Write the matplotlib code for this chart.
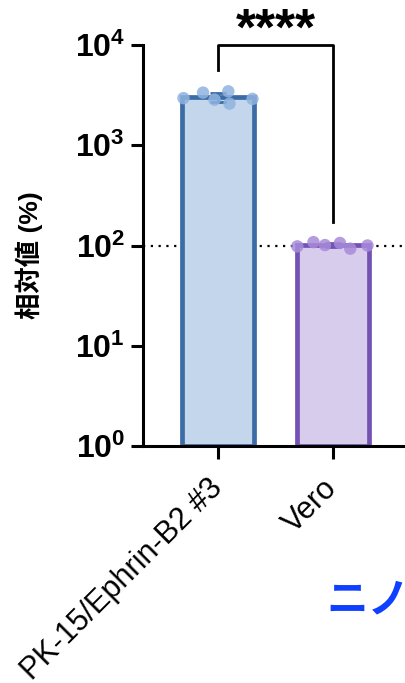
import matplotlib.pyplot as plt
from matplotlib.ticker import LogLocator, NullLocator
import numpy as np

# data
groups = ["PK-15/Ephrin-B2 #3", "Vero"]
pk15_values = [2950, 3350, 2850, 3450, 2600, 2900]
vero_values = [98, 108, 101, 106, 93, 100]
jitter = [[-0.30, -0.13, -0.03, 0.09, 0.10, 0.30],
          [-0.31, -0.17, -0.07, 0.06, 0.15, 0.30]]
reference_level = 100
significance = "****"

fill_colours = ["#c4d6ec", "#d8ccec"]
edge_colours = ["#3b6ca6", "#7352b3"]
point_colours = ["#8fb3e0", "#a88bd9"]

plt.rcParams['font.family'] = ['Liberation Sans', 'Noto Sans CJK JP']
plt.rcParams['mathtext.fontset'] = 'custom'
plt.rcParams['mathtext.rm'] = 'Liberation Sans:bold'
plt.rcParams['mathtext.bf'] = 'Liberation Sans:bold'

fig = plt.figure(figsize=(4.05, 6.83), dpi=100)
ax = fig.add_axes([143 / 405, 1 - 446 / 683, 1 - 143 / 405, (446 - 45) / 683])

series = [pk15_values, vero_values]
x = np.arange(len(groups))
means = [np.mean(v) for v in series]
sds = [np.std(v, ddof=1) for v in series]

for i, vals in enumerate(series):
    ax.bar(x[i], means[i], width=0.63, bottom=1, color=fill_colours[i],
           edgecolor=edge_colours[i], linewidth=3.4, zorder=2)
    ax.errorbar(x[i], means[i], yerr=sds[i], color=edge_colours[i],
                capsize=6, capthick=2, elinewidth=2, zorder=3)
    ax.scatter(x[i] + np.array(jitter[i]), vals, s=80, color=point_colours[i],
               alpha=0.85, edgecolors='none', zorder=4, clip_on=False)

ax.axhline(reference_level, color='black', linestyle=(0, (1, 2.5)),
           linewidth=1.6, zorder=1)

ax.set_yscale('log')
ax.set_ylim(1, 1e4)
ax.set_xlim(-0.652, 1.626)
ax.yaxis.set_major_locator(LogLocator(base=10, numticks=10))
ax.yaxis.set_minor_locator(NullLocator())

ax.set_xticks(x)
ax.set_xticklabels(groups, rotation=45, ha='right', va='center',
                   rotation_mode='anchor', fontsize=22)
ax.tick_params(axis='x', pad=18)
ax.tick_params(axis='both', width=2.2, length=9, direction='out')
ax.tick_params(axis='y', labelsize=23, pad=4)
for lbl in ax.get_yticklabels():
    lbl.set_fontweight('bold')

for s in ['top', 'right']:
    ax.spines[s].set_visible(False)
for s in ['left', 'bottom']:
    ax.spines[s].set_linewidth(2.2)

ax.set_ylabel("相対値 (%)", fontsize=19, fontweight='bold')
ax.yaxis.set_label_coords(-0.38, 0.476)

# significance bracket
ax.plot([0, 0, 1, 1], [5600, 1e4, 1e4, 172], color='black', linewidth=2,
        clip_on=False, zorder=5)
fig.text(276 / 405, 1 - 7 / 683, significance, ha='center', va='top',
         fontsize=37, fontweight='bold')

fig.text(326 / 405, 1 - 600 / 683, "ニノ", color='#1040ff', fontsize=30,
         fontweight='bold', family=['Noto Sans CJK JP'], va='center', ha='left')

fig.savefig("out.png", dpi=100)
